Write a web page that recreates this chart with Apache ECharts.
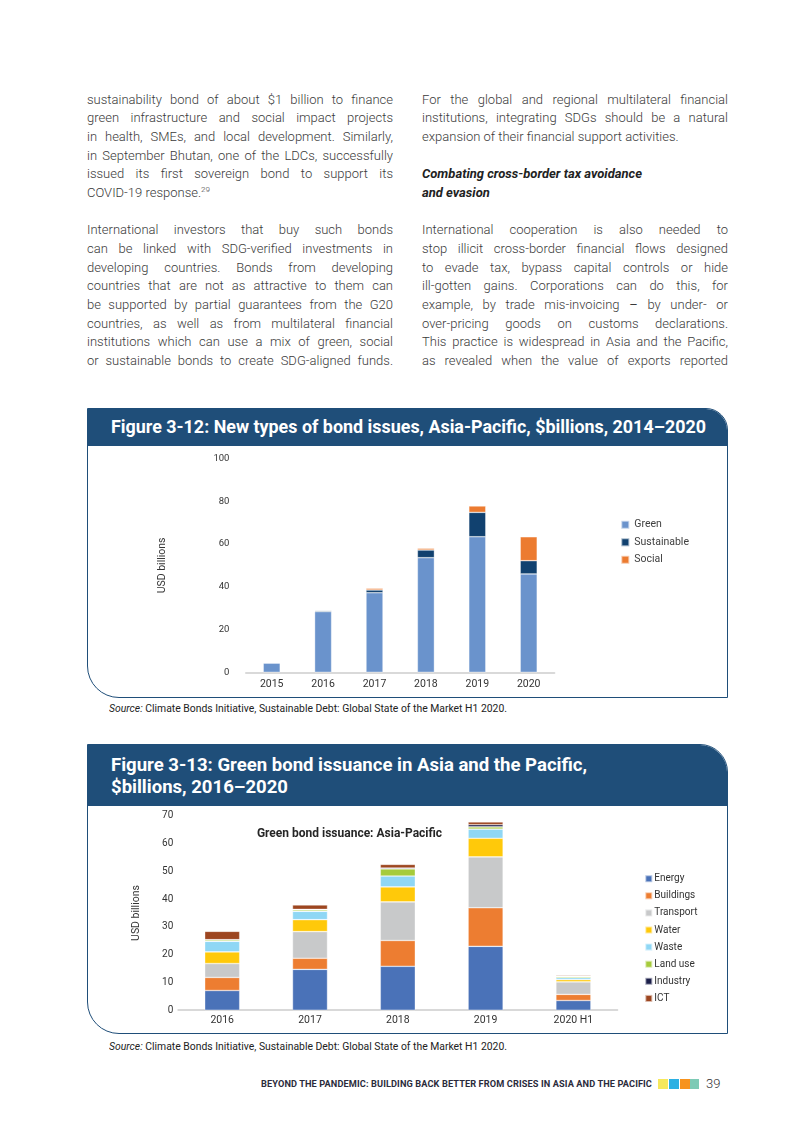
<!DOCTYPE html>
<html>
<head>
<meta charset="utf-8">
<script src="https://cdn.jsdelivr.net/npm/echarts@6/dist/echarts.min.js"></script>
<style>
  body{margin:0;width:793px;height:1122px;position:relative;background:#fff;font-family:Roboto,"Noto Sans",sans-serif;overflow:hidden}
  .line{position:absolute;height:18.65px;line-height:18.65px;font-size:13px;font-weight:300;color:#3a3a3a;white-space:nowrap}
  .line span{display:inline-block;white-space:nowrap}
  .head{font-weight:700;font-style:italic;color:#222}
  .fig{position:absolute;box-sizing:border-box;border:1.6px solid #1f4e79;overflow:hidden;background:#fff}
  .banner{position:absolute;left:0;top:0;right:0;background:#1f4e79}
  .btxt{position:absolute;left:22.8px;color:#fff;font-weight:700;font-size:18.5px;line-height:22.2px;white-space:nowrap;transform-origin:left center}
  .src{position:absolute;left:108.5px;font-size:10.5px;line-height:12px;color:#222;white-space:nowrap;transform-origin:left center}
  .chart{position:absolute;z-index:2}
  .foot{position:absolute;left:260.7px;top:1078px;font-size:8.6px;line-height:12px;font-weight:700;color:#2b2b3b;white-space:nowrap;transform-origin:left center;letter-spacing:0.1px}
  .sq{position:absolute;top:1079px;height:10px}
</style>
</head>
<body>
<div id="text"></div>

<div class="fig" style="left:87px;top:408px;width:641px;height:290px;border-radius:0 22px 0 32px;">
  <div class="banner" style="height:37px"></div>
  <div class="btxt fit" data-w="595" style="top:7px">Figure 3-12: New types of bond issues, Asia-Pacific, $billions, 2014–2020</div>
</div>
<div class="src fit" data-w="398" style="top:703.3px"><i>Source:</i> Climate Bonds Initiative, Sustainable Debt: Global State of the Market H1 2020.</div>

<div class="fig" style="left:87px;top:744px;width:641px;height:290px;border-radius:0 28px 0 32px;">
  <div class="banner" style="height:61px"></div>
  <div class="btxt fit" data-w="476" style="top:8.7px">Figure 3-13: Green bond issuance in Asia and the Pacific,</div>
  <div class="btxt fit" data-w="177" style="top:30.9px">$billions, 2016–2020</div>
</div>
<div class="src fit" data-w="398" style="top:1041px"><i>Source:</i> Climate Bonds Initiative, Sustainable Debt: Global State of the Market H1 2020.</div>

<div id="c1" class="chart" style="left:88px;top:446px;width:638px;height:250px"></div>
<div id="c2" class="chart" style="left:88px;top:806px;width:638px;height:226px"></div>

<div class="foot fit" data-w="391">BEYOND THE PANDEMIC: BUILDING BACK BETTER FROM CRISES IN ASIA AND THE PACIFIC</div>
<div class="sq" style="left:658px;width:10px;background:#f6e85c"></div>
<div class="sq" style="left:669px;width:10px;background:#2bb0e3"></div>
<div class="sq" style="left:679.5px;width:10px;background:#f7931e"></div>
<div class="sq" style="left:689.5px;width:9px;background:#7dcab5"></div>
<div style="position:absolute;left:706px;top:1076px;font-size:13px;line-height:16px;font-weight:300;color:#333">39</div>

<script>
// ---------- Figure 3-12 data ----------
const years1 = ['2015', '2016', '2017', '2018', '2019', '2020'];
const green = [4.4, 28.4, 37.2, 53.6, 63.4, 46.0];
const sustainable = [0, 0.5, 1.3, 3.6, 11.4, 6.2];
const social = [0, 0, 0.8, 0.8, 3.0, 11.2];
const yTicks1 = [0, 20, 40, 60, 80, 100];

// ---------- Figure 3-13 data ----------
const years2 = ['2016', '2017', '2018', '2019', '2020 H1'];
const energy = [7.1, 14.7, 15.8, 23.0, 3.5];
const buildings = [4.7, 4.0, 9.3, 13.9, 2.2];
const transport = [5.0, 9.6, 13.9, 18.3, 4.5];
const water = [4.2, 4.3, 5.4, 6.7, 0.8];
const waste = [3.8, 3.0, 3.9, 3.3, 0.7];
const landUse = [0.5, 0.5, 2.6, 0.8, 0.4];
const industry = [0.1, 0.2, 0.3, 0.8, 0.1];
const ict = [3.0, 1.6, 1.3, 1.0, 0.3];
const yTicks2 = [0, 10, 20, 30, 40, 50, 60, 70];

// ---------- body text ----------
const leftLines = [
  ['j', 'sustainability bond of about $1 billion to finance'],
  ['j', 'green infrastructure and social impact projects'],
  ['j', 'in health, SMEs, and local development. Similarly,'],
  ['j', 'in September Bhutan, one of the LDCs, successfully'],
  ['j', 'issued its first sovereign bond to support its'],
  ['l', 'COVID-19 response.<sup style="font-size:8px;line-height:0">29</sup>'],
  ['b', ''],
  ['j', 'International investors that buy such bonds'],
  ['j', 'can be linked with SDG-verified investments in'],
  ['j', 'developing countries. Bonds from developing'],
  ['j', 'countries that are not as attractive to them can'],
  ['j', 'be supported by partial guarantees from the G20'],
  ['j', 'countries, as well as from multilateral financial'],
  ['j', 'institutions which can use a mix of green, social'],
  ['j', 'or sustainable bonds to create SDG-aligned funds.']
];
const rightLines = [
  ['j', 'For the global and regional multilateral financial'],
  ['j', 'institutions, integrating SDGs should be a natural'],
  ['l', 'expansion of their financial support activities.'],
  ['b', ''],
  ['h', 'Combating cross-border tax avoidance'],
  ['h', 'and evasion'],
  ['b', ''],
  ['j', 'International cooperation is also needed to'],
  ['j', 'stop illicit cross-border financial flows designed'],
  ['j', 'to evade tax, bypass capital controls or hide'],
  ['j', 'ill-gotten gains. Corporations can do this, for'],
  ['j', 'example, by trade mis-invoicing <b>–</b> by under- or'],
  ['j', 'over-pricing goods on customs declarations.'],
  ['j', 'This practice is widespread in Asia and the Pacific,'],
  ['j', 'as revealed when the value of exports reported']
];

const textHost = document.getElementById('text');
function placeLines(lines, x) {
  lines.forEach((ln, i) => {
    if (ln[0] === 'b') return;
    const d = document.createElement('div');
    d.className = 'line' + (ln[0] === 'h' ? ' head' : '');
    d.style.left = x + 'px';
    d.style.top = (90.7 + i * 18.65) + 'px';
    const s = document.createElement('span');
    s.innerHTML = ln[1];
    d.appendChild(s);
    textHost.appendChild(d);
    if (ln[0] === 'j') {
      const w = s.getBoundingClientRect().width;
      const n = (ln[1].replace(/<[^>]*>/g, '').match(/ /g) || []).length;
      if (n > 0) s.style.wordSpacing = ((306 - w) / n) + 'px';
    }
  });
}
placeLines(leftLines, 87);
placeLines(rightLines, 422);

document.querySelectorAll('.fit').forEach(el => {
  el.style.display = 'inline-block';
  const w = el.getBoundingClientRect().width;
  const target = parseFloat(el.dataset.w);
  el.style.transform = 'scaleX(' + (target / w) + ')';
});

// ---------- chart 1 ----------
const c1 = echarts.init(document.getElementById('c1'), null, {renderer: 'canvas'});
const segBorder = {borderColor: 'rgba(255,255,255,0.6)', borderWidth: 0.6};
c1.setOption({
  animation: false,
  textStyle: {fontFamily: 'Roboto'},
  grid: {left: 158, top: 12.5, width: 308.4, height: 213.8, containLabel: false},
  legend: {
    orient: 'vertical', left: 527.3, top: 67.8, itemWidth: 8, itemHeight: 8, itemGap: 5.5,
    selectedMode: false, icon: 'rect',
    textStyle: {fontSize: 10.5, color: '#404040', lineHeight: 12},
    data: ['Green', 'Sustainable', 'Social']
  },
  xAxis: {
    type: 'category', data: years1,
    axisLine: {lineStyle: {color: '#d9d9d9', width: 2}},
    axisTick: {show: false},
    axisLabel: {fontSize: 10.5, color: '#333', margin: 6.5}
  },
  yAxis: {
    type: 'value', min: yTicks1[0], max: yTicks1[yTicks1.length - 1], interval: yTicks1[1] - yTicks1[0],
    axisLine: {show: false}, axisTick: {show: false}, splitLine: {show: false},
    axisLabel: {fontSize: 9.5, color: '#333', margin: 16.6},
    name: 'USD billions', nameLocation: 'middle', nameGap: 78,
    nameTextStyle: {fontSize: 10.5, color: '#333'}
  },
  series: [
    {name: 'Green', type: 'bar', stack: 's', data: green, barWidth: 17, itemStyle: Object.assign({color: '#6a93cc'}, segBorder)},
    {name: 'Sustainable', type: 'bar', stack: 's', data: sustainable, barWidth: 17, itemStyle: Object.assign({color: '#11416f'}, segBorder)},
    {name: 'Social', type: 'bar', stack: 's', data: social, barWidth: 17, itemStyle: Object.assign({color: '#ec7b30'}, segBorder)}
  ]
});

// ---------- chart 2 ----------
const c2 = echarts.init(document.getElementById('c2'), null, {renderer: 'canvas'});
const names2 = ['Energy', 'Buildings', 'Transport', 'Water', 'Waste', 'Land use', 'Industry', 'ICT'];
const vals2 = [energy, buildings, transport, water, waste, landUse, industry, ict];
const cols2 = ['#4a72b8', '#ed7d31', '#c8c9ca', '#ffc90a', '#8fd7f5', '#a6cb3b', '#1c1f4a', '#9d4620'];
c2.setOption({
  animation: false,
  textStyle: {fontFamily: 'Roboto'},
  title: {
    text: 'Green bond issuance: Asia-Pacific', left: 256.5, top: 16.5, textAlign: 'center',
    textStyle: {fontSize: 12, fontWeight: 'bold', color: '#262626'}
  },
  grid: {left: 90.3, top: 9.8, width: 439, height: 194.4, containLabel: false},
  legend: {
    orient: 'vertical', left: 551.3, top: 61.7, itemWidth: 7, itemHeight: 7, itemGap: 5.1,
    selectedMode: false, icon: 'rect',
    textStyle: {fontSize: 10, color: '#333', lineHeight: 12, padding: [0, 0, 0, -3]},
    data: names2
  },
  xAxis: {
    type: 'category', data: years2,
    axisLine: {lineStyle: {color: '#d9d9d9', width: 2}},
    axisTick: {show: false},
    axisLabel: {fontSize: 10.5, color: '#333', margin: 5}
  },
  yAxis: {
    type: 'value', min: yTicks2[0], max: yTicks2[yTicks2.length - 1], interval: yTicks2[1] - yTicks2[0],
    axisLine: {show: false}, axisTick: {show: false}, splitLine: {show: false},
    axisLabel: {fontSize: 10, color: '#333', margin: 5},
    name: 'USD billions', nameLocation: 'middle', nameGap: 36,
    nameTextStyle: {fontSize: 10.5, color: '#333'}
  },
  series: names2.map((n, i) => ({
    name: n, type: 'bar', stack: 'g', data: vals2[i], barWidth: 35,
    itemStyle: Object.assign({color: cols2[i]}, segBorder)
  }))
});
</script>
</body>
</html>
